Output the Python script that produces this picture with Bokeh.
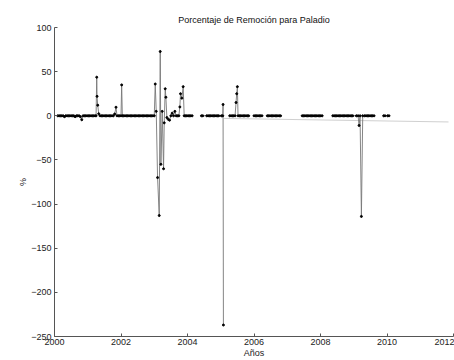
from bokeh.plotting import figure
from bokeh.embed import file_html
from bokeh.resources import INLINE
from bokeh.models import ColumnDataSource, FixedTicker

NaN = float("nan")

# Fechas (años decimales) y porcentaje de remoción
fecha = [
    2000.10, 2000.14, 2000.18, 2000.22, 2000.26, 2000.30, 2000.34, 2000.38, 2000.42, 2000.46,
    2000.50, 2000.54, 2000.58, 2000.62, 2000.66, 2000.70, 2000.74, 2000.78, 2000.82, 2000.86,
    2000.90, 2000.94, 2000.98, 2001.02, 2001.06, 2001.10, 2001.14, 2001.18, 2001.22,
    2001.25, 2001.27, 2001.28, 2001.30, 2001.33,
    2001.37, 2001.41, 2001.45, 2001.49, 2001.53, 2001.57, 2001.61, 2001.65, 2001.69, 2001.73,
    2001.77, 2001.81, 2001.85, 2001.88, 2001.92, 2001.96, 2002.00, 2002.02, 2002.04,
    2002.08, 2002.12, 2002.16, 2002.20, 2002.24, 2002.28, 2002.32, 2002.36, 2002.40, 2002.44,
    2002.48, 2002.52, 2002.56, 2002.60, 2002.64, 2002.68, 2002.72, 2002.76, 2002.80, 2002.84,
    2002.88, 2002.92, 2002.96, 2003.00,
    2003.03, 2003.06, 2003.10, 2003.15, 2003.18, 2003.20, 2003.24, 2003.28, 2003.30, 2003.33,
    2003.35, 2003.38, 2003.42, 2003.46, 2003.50, 2003.54, 2003.58, 2003.62, 2003.66, 2003.70,
    2003.74, 2003.77, 2003.79, 2003.83, 2003.87, 2003.90, 2003.94, 2003.98, 2004.02, 2004.06,
    2004.10, 2004.14,
    2004.30,
    2004.42, 2004.46,
    2004.58, 2004.62, 2004.66, 2004.70, 2004.74, 2004.78, 2004.82, 2004.86, 2004.90, 2004.94,
    2005.02, 2005.06, 2005.07, 2005.08,
    2005.20,
    2005.27, 2005.31, 2005.35, 2005.39, 2005.43, 2005.46, 2005.48, 2005.50, 2005.52, 2005.56,
    2005.60, 2005.64, 2005.68, 2005.72, 2005.76, 2005.80, 2005.84,
    2005.95,
    2006.00, 2006.04, 2006.08, 2006.12, 2006.16, 2006.20, 2006.24,
    2006.32,
    2006.40, 2006.44, 2006.48, 2006.52, 2006.56, 2006.60, 2006.64, 2006.68, 2006.72, 2006.76,
    2006.80,
    2007.10,
    2007.45, 2007.49, 2007.53, 2007.57, 2007.61, 2007.65, 2007.69, 2007.73, 2007.77, 2007.81,
    2007.85, 2007.89, 2007.93, 2007.97, 2008.01, 2008.05,
    2008.20,
    2008.37, 2008.41, 2008.45, 2008.49, 2008.53, 2008.57, 2008.61, 2008.65, 2008.69, 2008.73,
    2008.77, 2008.81, 2008.85, 2008.89, 2008.93, 2008.97, 2009.08, 2009.13, 2009.16, 2009.19,
    2009.23, 2009.27, 2009.33, 2009.37, 2009.41, 2009.45, 2009.49, 2009.53, 2009.57, 2009.61,
    2009.75,
    2009.90, 2009.94, 2010.02, 2010.06,
]
remocion = [
    0, 0, 0, 0, 0, -1, 0, 0, 0, 0,
    0, 0, 0, -1, 0, 0, 0, -1, -4.5, 0,
    0, 0, 0, 0, 0, 0, 0, 0, 0,
    0, 43.7, 22, 12, 2.3,
    0, 0, 0, 0, 0, 0, 0, 0, 0, 0,
    0, 2, 9.7, 0, 0, 0, 0, 35, 0,
    0, 0, 0, 0, 0, 0, 0, 0, 0, 0,
    0, 0, 0, 0, 0, 0, 0, 0, 0, 0,
    0, 0, 0, 0,
    36, 5, -70, -113, 72.8, -55, 5, -60, -8, 30.6,
    21, -2, -4, -5, 0, 3, 0, 5, 0, 0,
    0, 10, 25, 20, 33, 0, 0, 0, 0, 0,
    0, 0,
    NaN,
    0, 0,
    0, 0, 0, 0, 0, 0, 0, 0, 0, 0,
    0, 0, 12.8, -237,
    NaN,
    0, 0, 0, 0, 0, 15, 25, 33, 0, 0,
    0, 0, 0, 0, 0, 0, 0,
    NaN,
    0, 0, 0, 0, 0, 0, 0,
    NaN,
    0, 0, 0, 0, 0, 0, 0, 0, 0, 0,
    0,
    NaN,
    0, 0, 0, 0, 0, 0, 0, 0, 0, 0,
    0, 0, 0, 0, 0, 0,
    NaN,
    0, 0, 0, 0, 0, 0, 0, 0, 0, 0,
    0, 0, 0, 0, 0, 0, 0, 0, -11, 0,
    -114, 0, 0, 0, 0, 0, 0, 0, 0, 0,
    NaN,
    0, 0, 0, 0,
]

# Línea tenue de tendencia bajo el cero
tendencia_x = [2005.10, 2011.85]
tendencia_y = [-3, -7]

x_ticks = [2000, 2002, 2004, 2006, 2008, 2010, 2012]
y_ticks = [-250, -200, -150, -100, -50, 0, 50, 100]

p = figure(width=454, height=360, x_range=(2000, 2012), y_range=(-250, 100),
           output_backend="svg", toolbar_location=None,
           min_border_left=54, min_border_right=1, min_border_top=27, min_border_bottom=0,
           background_fill_color="white", border_fill_color="white")

p.title.text = "Porcentaje de Remoción para Paladio"
p.title.align = "center"
p.title.text_font = "Liberation Sans"
p.title.text_font_size = "9px"
p.title.text_font_style = "normal"
p.title.text_color = "#111111"
p.title.standoff = 6

p.outline_line_color = None
p.xgrid.visible = False
p.ygrid.visible = False

src = ColumnDataSource(dict(x=fecha, y=remocion))
p.line(tendencia_x, tendencia_y, line_color="#d0d0d0", line_width=1)
p.line("x", "y", source=src, line_color="#777777", line_width=0.9)
p.scatter("x", "y", source=src, size=2.0, fill_color="black", line_color="black")

for ax in (p.xaxis[0], p.yaxis[0]):
    ax.major_tick_in = 3
    ax.major_tick_out = 0
    ax.minor_tick_line_color = None
    ax.axis_line_color = "#555555"
    ax.major_tick_line_color = "#555555"
    ax.major_label_text_font = "Liberation Sans"
    ax.major_label_text_font_size = "9px"
    ax.major_label_text_color = "#222222"
    ax.axis_label_text_font = "Liberation Sans"
    ax.axis_label_text_font_size = "9px"
    ax.axis_label_text_font_style = "normal"
    ax.axis_label_text_color = "#222222"

p.xaxis[0].ticker = FixedTicker(ticks=x_ticks)
p.yaxis[0].ticker = FixedTicker(ticks=y_ticks)
p.xaxis[0].axis_label = "Años"
p.yaxis[0].axis_label = "%"
p.xaxis[0].major_label_standoff = 2
p.xaxis[0].axis_label_standoff = 0
p.yaxis[0].major_label_standoff = 3
p.yaxis[0].axis_label_standoff = 0

open("out.html", "w").write(file_html(p, INLINE))
